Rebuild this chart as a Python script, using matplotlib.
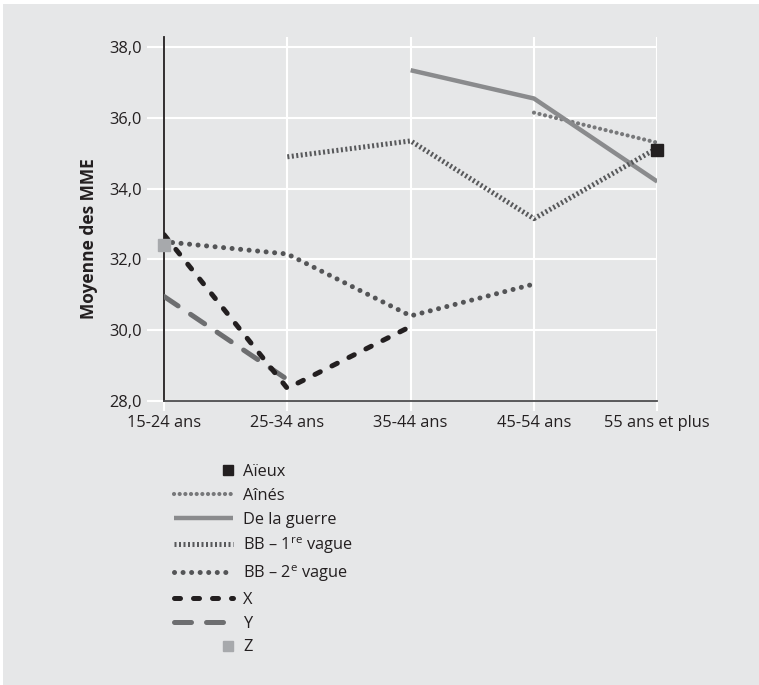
import numpy as np
import matplotlib
matplotlib.use("Agg")
import matplotlib.pyplot as plt
from matplotlib.patches import Rectangle
from matplotlib.legend_handler import HandlerLine2D
from matplotlib.ticker import FuncFormatter

# -----------------------------------------------------------------------------
# DATA
# -----------------------------------------------------------------------------
categories = ["15-24 ans", "25-34 ans", "35-44 ans", "45-54 ans", "55 ans et plus"]
y_ticks = [28.0, 30.0, 32.0, 34.0, 36.0, 38.0]

# None = no value for this age group
aieux = [None, None, None, None, 35.1]
aines = [None, None, None, 36.15, 35.3]
guerre = [None, None, 37.35, 36.55, 34.2]
bb1 = [None, 34.9, 35.35, 33.15, 35.15]
bb2 = [32.5, 32.15, 30.4, 31.3, None]
gen_x = [32.7, 28.35, 30.1, None, None]
gen_y = [30.95, 28.6, None, None, None]
gen_z = [32.4, None, None, None, None]


def arr(vals):
    return np.array([np.nan if v is None else v for v in vals], dtype=float)


# -----------------------------------------------------------------------------
# STYLE
# -----------------------------------------------------------------------------
plt.rcParams['font.family'] = ['Open Sans', 'DejaVu Sans']
plt.rcParams['mathtext.fontset'] = 'custom'
plt.rcParams['mathtext.rm'] = 'Open Sans'

BG = "#e6e7e8"
TXT = "#231f20"
FS = 11.8

fig = plt.figure(figsize=(7.59, 6.85), dpi=100, facecolor="white")
fig.patches.append(Rectangle((3 / 759, 0), 1, 1 - 4 / 685, transform=fig.transFigure,
                             facecolor=BG, edgecolor="none", zorder=-10))

ax = fig.add_axes([164 / 759, 1 - 400.7 / 685, (657.3 - 164) / 759, (400.7 - 37) / 685])
ax.set_facecolor(BG)

x = np.arange(len(categories))

ax.plot(x, arr(aines), color="#77787a", lw=3.0, linestyle=(0, (0.01, 1.35)),
        dash_capstyle="round", label="Aînés", zorder=3)
ax.plot(x, arr(guerre), color="#8a8b8d", lw=3.2, solid_capstyle="butt",
        label="De la guerre", zorder=3)
ax.plot(x, arr(bb1), color="#58595b", lw=3.6, linestyle=(0, (0.4, 0.5)),
        dash_capstyle="butt", label="BB – 1$^{\\mathrm{re}}$ vague", zorder=3)
ax.plot(x, arr(bb2), color="#545557", lw=3.6, linestyle=(0, (0.01, 1.7)),
        dash_capstyle="round", label="BB – 2$^{\\mathrm{e}}$ vague", zorder=3)
ax.plot(x, arr(gen_x), color=TXT, lw=3.6, linestyle=(0, (1.2, 2.6)),
        dash_capstyle="round", label="X", zorder=4)
ax.plot(x, arr(gen_y), color="#6d6e70", lw=3.6, linestyle=(0, (3.4, 3.0)),
        dash_capstyle="round", label="Y", zorder=3)
ax.plot(x, arr(aieux), linestyle="none", marker="s", markersize=8,
        color=TXT, label="Aïeux", zorder=5, clip_on=False)
ax.plot(x, arr(gen_z), linestyle="none", marker="s", markersize=8,
        color="#a7a9ac", label="Z", zorder=5, clip_on=False)

ax.set_xlim(0, 4)
ax.set_ylim(28, 38.29)
ax.set_xticks(x)
ax.set_xticklabels(categories)
ax.set_yticks(y_ticks)
ax.yaxis.set_major_formatter(FuncFormatter(lambda v, p: f"{v:.1f}".replace(".", ",")))

ax.grid(True, color="white", lw=1.5, zorder=0)
ax.set_axisbelow(True)
ax.tick_params(axis="y", length=12, width=1.5, color="white", labelsize=FS,
               labelcolor=TXT, pad=4)
ax.tick_params(axis="x", length=7, width=1.5, color="white", labelsize=FS,
               labelcolor=TXT, pad=3)
ax.get_xticklines()[0].set_color(TXT)

for side in ["top", "right"]:
    ax.spines[side].set_visible(False)
ax.spines["left"].set_color(TXT)
ax.spines["left"].set_linewidth(1.3)
ax.spines["bottom"].set_color("#4d4d4f")
ax.spines["bottom"].set_linewidth(1.3)
ax.spines["left"].set_zorder(2.5)

ax.set_ylabel("Moyenne des MME", fontsize=12.5, fontweight="bold", color=TXT)
ax.yaxis.set_label_coords(-0.134, 0.445)


# legend: square markers sit at the right end of the handle
class RightMarker(HandlerLine2D):
    def get_xdata(self, legend, xdescent, ydescent, width, height, fontsize):
        xr = width - xdescent - 0.3 * fontsize
        return np.array([xr, xr]), np.array([xr])


handles, labels = ax.get_legend_handles_labels()
order = ["Aïeux", "Aînés", "De la guerre", "BB – 1$^{\\mathrm{re}}$ vague",
         "BB – 2$^{\\mathrm{e}}$ vague", "X", "Y", "Z"]
hmap = dict(zip(labels, handles))
hs = [hmap[k] for k in order]
sq = RightMarker(numpoints=1)
leg = fig.legend(hs, order, loc="upper left", bbox_to_anchor=(166 / 759, 1 - 456 / 685),
                 frameon=False, fontsize=FS, handlelength=3.6, handletextpad=0.6,
                 labelspacing=0.47, borderpad=0, labelcolor=TXT, markerscale=0.85,
                 handler_map={hmap["Aïeux"]: sq, hmap["Z"]: sq})

fig.savefig("out.png", dpi=100, facecolor="white")
